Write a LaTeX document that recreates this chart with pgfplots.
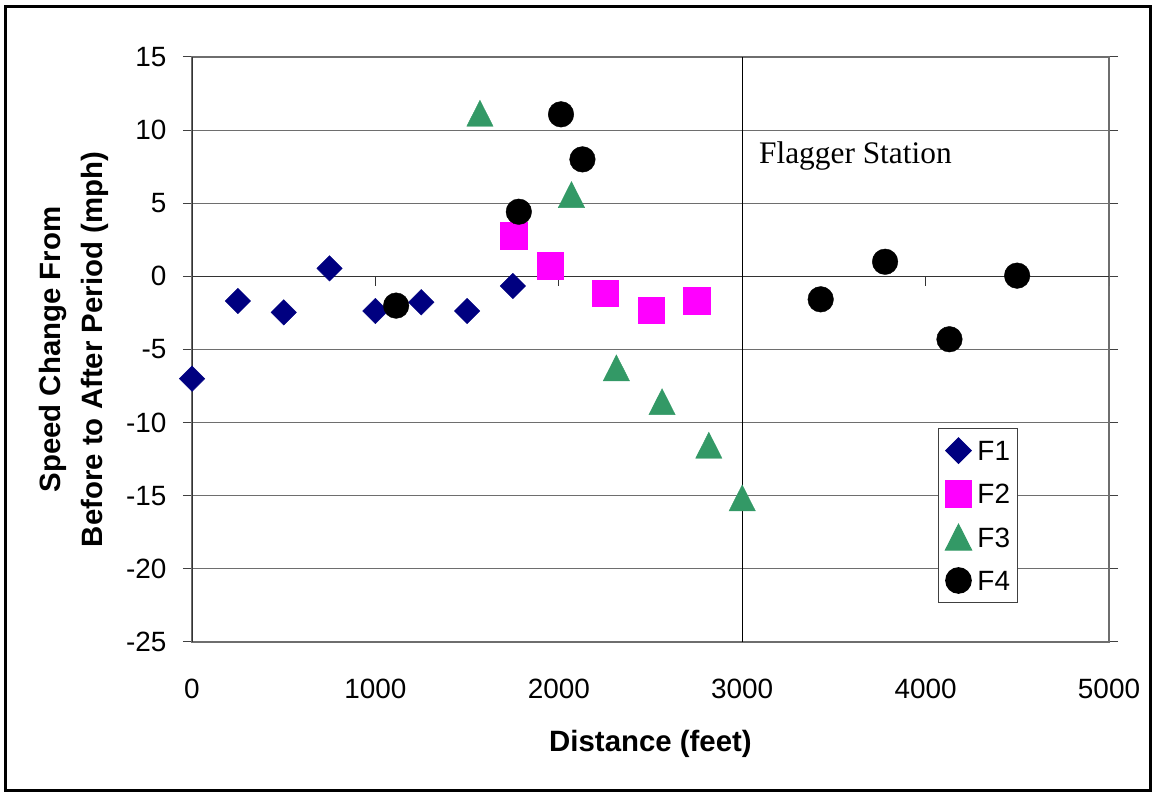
\documentclass[border=0pt]{standalone}
\usepackage{pgfplots}
\pgfplotsset{compat=1.18}
\usepackage{fontspec}
\setmainfont{Liberation Sans}
\newfontfamily\seriffont{Liberation Serif}
\definecolor{fone}{RGB}{0,0,128}
\definecolor{ftwo}{RGB}{255,0,255}
\definecolor{fthree}{RGB}{51,153,102}
\definecolor{gridc}{RGB}{110,110,110}
\begin{document}
\begin{tikzpicture}[x=1bp,y=1bp]
\useasboundingbox (0,0) rectangle (1156,792);
\draw[line width=3bp] (5,1.5) rectangle (1150,785);
\begin{axis}[
  at={(192bp,150bp)}, anchor=south west,
  scale only axis, width=917bp, height=585bp,
  xmin=0, xmax=5000, ymin=-25, ymax=15,
  xtick={0,1000,...,5000}, ytick={-25,-20,...,15},
  /pgf/number format/assume math mode=true,
  /pgf/number format/1000 sep={},
  ymajorgrids, major grid style={gridc, line width=1.2bp},
  axis line style={gridc, line width=1.2bp},
  tick align=outside, major tick length=9bp,
  ytick style={black!75, line width=1bp},
  xtick style={draw=none},
  tick label style={font=\fontsize{28}{30}\selectfont},
  xticklabel style={yshift=-25bp},
  yticklabel style={xshift=-13bp},
  xlabel={Distance (feet)},
  xlabel style={at={(axis description cs:0.5,-0.174)}, anchor=center, font=\bfseries\fontsize{29.5}{32}\selectfont},
  ylabel={Speed Change From\\Before to After Period (mph)},
  ylabel style={at={(axis description cs:-0.1287,0.5)}, anchor=center, align=center, font=\bfseries\fontsize{29.5}{42}\selectfont},
  legend style={at={(axis description cs:0.8135,0.3665)}, anchor=north west,
    draw=black!75, line width=1bp, fill=white,
    font=\fontsize{28}{30}\selectfont,
    inner xsep=7bp, inner ysep=12.5bp, row sep=23.3bp,
    nodes={inner sep=0pt, text height=20bp, text depth=0pt}},
  legend cell align=left,
  legend image code/.code={\draw[#1, overlay] plot coordinates {(0bp,0bp)}; \path[draw=none, fill=none] (-13bp,-10bp) rectangle (19bp,10bp);},
]
\addplot[only marks, mark=square*, mark size=9bp, color=fone, mark options={rotate=45}]
  coordinates {(0,-7.0) (250,-1.68) (500,-2.46) (750,0.55) (1000,-2.37) (1250,-1.77) (1500,-2.37) (1750,-0.66)};
\addlegendentry{F1}
\addplot[only marks, mark=square*, mark size=13.3bp, color=ftwo]
  coordinates {(1754,2.76) (1952,0.71) (2254,-1.16) (2503,-2.30) (2751,-1.68)};
\addlegendentry{F2}
\addplot[only marks, mark=triangle*, mark size=15.2bp, color=fthree, mark options={yshift=-4.3bp, yscale=1.14}]
  coordinates {(1570,11.15) (2069,5.59) (2314,-6.26) (2563,-8.57) (2818,-11.55) (3000,-15.15)};
\addlegendentry{F3}
\addplot[only marks, mark=*, mark size=12.8bp, color=black]
  coordinates {(1113,-2.0) (1782,4.42) (2012,11.08) (2129,8.0) (3428,-1.57) (3779,1.0) (4130,-4.3) (4499,0.05)};
\addlegendentry{F4}
\draw[black!80, line width=1.3bp] (axis cs:0,-25) -- (axis cs:0,15);
\draw[black!80, line width=1.3bp] (axis cs:0,0) -- (axis cs:5000,0);
\pgfplotsinvokeforeach{1000,2000,3000,4000,5000}{
  \draw[black!80, line width=1bp] (axis cs:#1,0) -- ++(0bp,-10bp);
}
\draw[black, line width=1.3bp] (axis cs:3000,-25) -- (axis cs:3000,15);
\node[anchor=base west, inner sep=0pt, font=\seriffont\fontsize{31.5}{34}\selectfont] at (axis cs:3091,7.69) {Flagger Station};
\end{axis}
\end{tikzpicture}
\end{document}
